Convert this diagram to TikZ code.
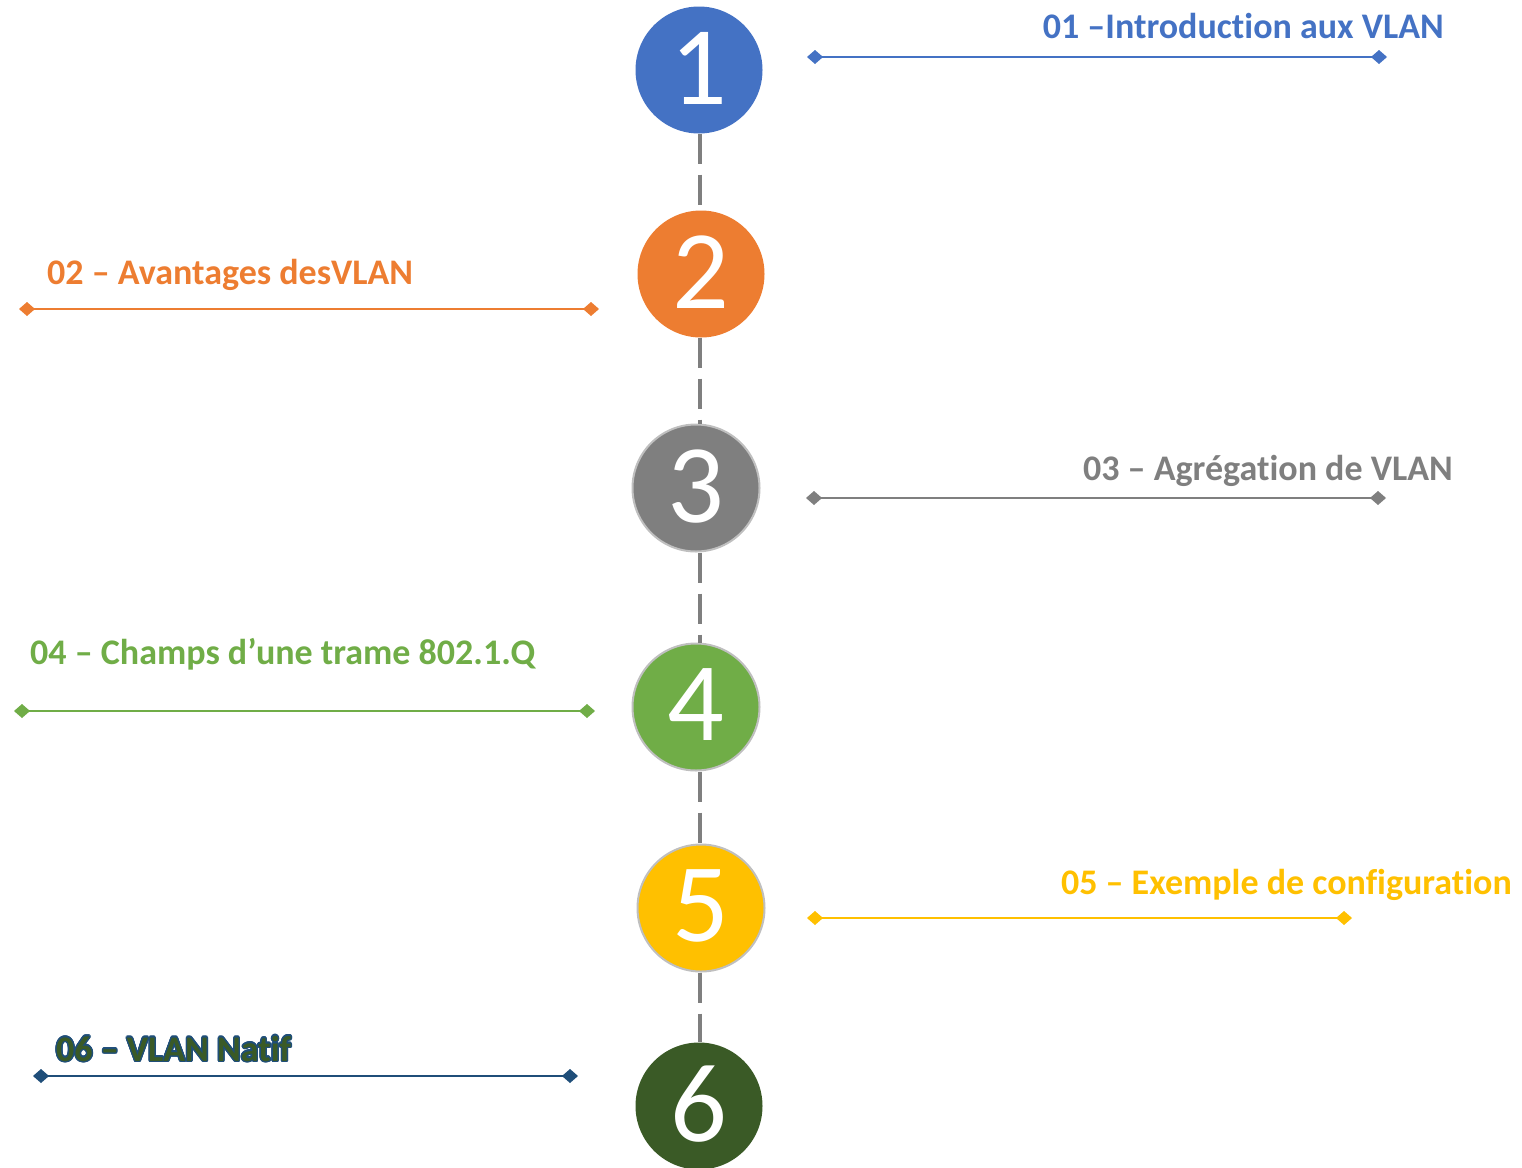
\documentclass[tikz,border=0pt]{standalone}
\usepackage{fontspec}
\setmainfont{Carlito}[Ligatures=NoCommon]
\usepackage{tikz}
\usetikzlibrary{arrows.meta}
\usepackage{contour}
\contourlength{1.4pt}

\definecolor{vBlue}{HTML}{4472C4}
\definecolor{vOrange}{HTML}{ED7D31}
\definecolor{vGray}{HTML}{7F7F7F}
\definecolor{vGreen}{HTML}{70AD47}
\definecolor{vGold}{HTML}{FFC000}
\definecolor{vNavy}{HTML}{1F4E79}
\definecolor{vForest}{HTML}{3A5A26}
\definecolor{vRim}{HTML}{BFBFBF}

\begin{document}
\begin{tikzpicture}[
    x=1pt, y=-1pt,
    num/.style={circle, minimum size=127pt, inner sep=0pt, text=white,
font=\fontsize{112}{112}\selectfont},
    rim/.style={draw=vRim, line width=2pt},
    link/.style={draw=vGray, line width=3.5pt, dash pattern=on 30pt off 11pt},
    rule/.style={draw=#1, line width=1.5pt,
{Diamond[length=16pt,width=14pt]}-{Diamond[length=16pt,width=14pt]}},
    topic/.style={inner sep=0pt, font=\fontsize{36}{42}\selectfont\bfseries}]

    \useasboundingbox (0,0) rectangle (1522,1167);

    % steps
    \node[num, fill=vBlue] (n1) at (699,70) {\raisebox{4pt}{1}};
    \node[num, fill=vOrange] (n2) at (701,274) {\raisebox{4pt}{2}};
    \node[num, fill=vGray, rim] (n3) at (696,488) {\raisebox{4pt}{3}};
    \node[num, fill=vGreen, rim] (n4) at (696,707) {\raisebox{4pt}{4}};
    \node[num, fill=vGold, rim] (n5) at (701,908) {\raisebox{4pt}{5}};
    \node[num, fill=vForest] (n6) at (699,1106) {\raisebox{4pt}{6}};

    \coordinate (spine) at (700,0);
    \draw[link] (n1.south -| spine) -- (n2.north -| spine);
    \draw[link] (n2.south -| spine) -- (n3.north -| spine);
    \draw[link] (n3.south -| spine) -- (n4.north -| spine);
    \draw[link] (n4.south -| spine) -- (n5.north -| spine);
    \draw[link] (n5.south -| spine) -- (n6.north -| spine);

    % topics
    \coordinate (a1) at (807,57);   \coordinate (b1) at (1387,57);
    \coordinate (a2) at (19,309);   \coordinate (b2) at (599,309);
    \coordinate (a3) at (806,498);  \coordinate (b3) at (1386,498);
    \coordinate (a4) at (14,711);   \coordinate (b4) at (595,711);
    \coordinate (a5) at (807,918);  \coordinate (b5) at (1352,918);
    \coordinate (a6) at (33,1076);  \coordinate (b6) at (578,1076);

    \draw[rule=vBlue] (a1) -- (b1);
    \draw[rule=vOrange] (a2) -- (b2);
    \draw[rule=vGray] (a3) -- (b3);
    \draw[rule=vGreen] (a4) -- (b4);
    \draw[rule=vGold] (a5) -- (b5);
    \draw[rule=vNavy] (a6) -- (b6);

    \node[topic, text=vBlue, anchor=base east] (t1) at (1444,38) {01 –Introduction aux VLAN};
    \node[topic, text=vOrange, anchor=base west] (t2) at (47,284) {02 – Avantages desVLAN};
    \node[topic, text=vGray, anchor=base east] (t3) at (1453,480) {03 – Agrégation de VLAN};
    \node[topic, text=vGreen, anchor=base west] (t4) at (30,664) {04 – Champs d’une trame 802.1.Q};
    \node[topic, text=vGold, anchor=base east] (t5) at (1512,894) {05 – Exemple de configuration};
    \node[topic, anchor=base west] (t6) at (56,1061) {\contour{vNavy}{\textcolor{vForest}{06 – VLAN Natif}}};

\end{tikzpicture}
\end{document}
